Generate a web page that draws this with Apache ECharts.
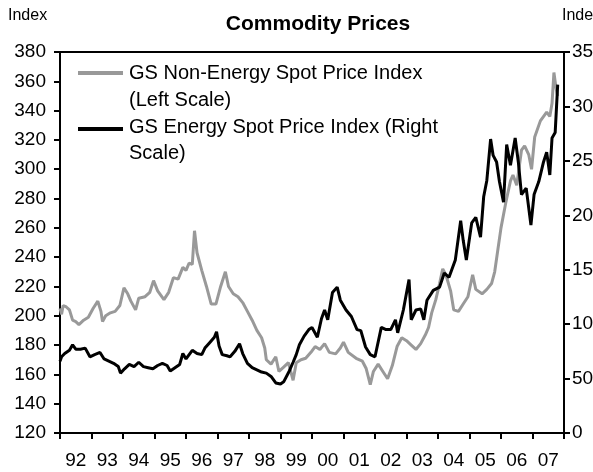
<!DOCTYPE html>
<html>
<head>
<meta charset="utf-8">
<script src="https://cdn.jsdelivr.net/npm/echarts@6/dist/echarts.min.js"></script>
<style>
html,body{margin:0;padding:0;background:#fff;}
#chart{width:593px;height:472px;}
</style>
</head>
<body>
<div id="chart"></div>
<script>
// Year tick labels (categories between yearly ticks)
var yearLabels = ['92','93','94','95','96','97','98','99','00','01','02','03','04','05','06','07'];

// GS Non-Energy Spot Price Index (left scale)
var nonEnergyYears = [1992.00,1992.05,1992.10,1992.20,1992.30,1992.40,1992.50,1992.60,1992.75,1992.90,
1993.05,1993.20,1993.30,1993.35,1993.45,1993.60,1993.75,1993.90,1994.03,1994.15,1994.25,1994.40,1994.50,
1994.70,1994.85,1994.97,1995.10,1995.30,1995.45,1995.60,1995.75,1995.90,1996.00,1996.10,1996.20,1996.27,
1996.35,1996.50,1996.65,1996.80,1996.95,1997.10,1997.25,1997.35,1997.50,1997.65,1997.80,1997.95,1998.10,
1998.25,1998.40,1998.50,1998.55,1998.70,1998.85,1998.95,1999.10,1999.25,1999.40,1999.50,1999.65,1999.80,
2000.00,2000.10,2000.25,2000.40,2000.55,2000.75,2000.90,2001.00,2001.15,2001.40,2001.60,2001.72,2001.85,
2001.95,2002.10,2002.25,2002.40,2002.55,2002.70,2002.85,2003.00,2003.15,2003.30,2003.45,2003.60,2003.70,
2003.80,2003.93,2004.05,2004.15,2004.25,2004.40,2004.50,2004.65,2004.80,2004.95,2005.10,2005.20,2005.40,
2005.55,2005.70,2005.80,2005.90,2006.00,2006.15,2006.30,2006.38,2006.50,2006.65,2006.75,2006.88,2006.97,
2007.07,2007.25,2007.45,2007.55,2007.62,2007.68,2007.75,2007.80];
var nonEnergyValues = [205,201,207,206,204,197,196,194,197,199,
205,210,203,196,200,202,203,207,219,215,210,204,212,
213,216,224,217,211,216,226,225,233,231,236,235,258,
243,231,220,208,208,220,230,220,215,213,209,203,197,
190,185,178,170,167,172,162,165,168,156,168,170,171,
176,179,177,181,175,174,178,182,175,171,169,164,153,
162,167,162,157,166,179,185,183,180,177,181,187,192,
202,211,222,232,228,217,204,203,208,213,228,218,215,
218,222,230,245,260,277,292,296,289,313,316,310,300,
322,333,339,336,345,366,355,350];

// GS Energy Spot Price Index (right scale)
var energyYears = [1992.00,1992.05,1992.15,1992.30,1992.40,1992.50,1992.65,1992.80,1992.95,1993.10,
1993.27,1993.40,1993.55,1993.70,1993.85,1993.92,1994.05,1994.20,1994.35,1994.50,1994.65,1994.80,1994.95,
1995.10,1995.25,1995.40,1995.50,1995.65,1995.80,1995.90,1996.00,1996.20,1996.35,1996.50,1996.60,1996.75,
1996.90,1996.97,1997.05,1997.15,1997.30,1997.40,1997.55,1997.70,1997.80,1997.95,1998.10,1998.25,1998.40,
1998.55,1998.70,1998.85,1999.00,1999.10,1999.28,1999.40,1999.50,1999.60,1999.75,1999.90,2000.00,2000.17,
2000.30,2000.40,2000.50,2000.65,2000.80,2000.90,2001.08,2001.25,2001.43,2001.55,2001.70,2001.85,2002.00,
2002.20,2002.35,2002.50,2002.65,2002.72,2002.90,2003.08,2003.15,2003.30,2003.45,2003.55,2003.65,2003.85,
2004.05,2004.20,2004.35,2004.55,2004.72,2004.80,2004.90,2005.07,2005.20,2005.35,2005.45,2005.55,2005.67,
2005.75,2005.86,2005.95,2006.08,2006.18,2006.30,2006.45,2006.55,2006.65,2006.80,2006.95,2007.05,2007.20,
2007.35,2007.45,2007.55,2007.62,2007.72,2007.80];
var energyValues = [66,70,73,76,81,77,77,78,70,72,
74,68,66,64,61,55,59,63,61,65,61,60,59,
62,64,62,57,60,63,73,68,76,73,72,78,83,
88,93,80,72,71,70,75,82,73,64,60,58,56,
55,52,46,45,47,57,65,72,81,89,95,97,88,
105,113,104,129,134,122,113,107,95,94,79,72,70,
97,95,95,104,92,113,141,104,113,114,104,122,131,
134,147,143,159,195,177,159,193,198,180,217,232,270,
255,249,231,212,265,246,271,249,219,225,191,219,231,
249,258,237,271,276,320];

var FONT = "'Liberation Sans', Arial, sans-serif";

function pairs(xs, ys){ var out=[]; for(var i=0;i<xs.length;i++) out.push([xs[i], ys[i]]); return out; }

var chart = echarts.init(document.getElementById('chart'), null, {renderer:'canvas'});
var axisLine = {show:true, lineStyle:{color:'#000', width:2}};
chart.setOption({
  animation:false,
  backgroundColor:'#fff',
  title:{text:'Commodity Prices', left:313, top:9, textAlign:'center',
    textStyle:{fontFamily:FONT, fontSize:21, fontWeight:'bold', color:'#000'}},
  grid:{left:60, right:29, top:52, bottom:39, containLabel:false, outerBoundsMode:'none'},
  xAxis:[
    {type:'category', data:yearLabels, position:'bottom', boundaryGap:true,
     axisLine:axisLine, axisTick:{show:true, inside:false, length:6, lineStyle:{color:'#000', width:2}, interval:0},
     axisLabel:{interval:0, margin:18, fontFamily:FONT, fontSize:19, color:'#000'},
     splitLine:{show:false}},
    {type:'value', min:1992, max:2008, position:'top',
     axisLine:axisLine, axisTick:{show:false}, axisLabel:{show:false}, splitLine:{show:false}}
  ],
  yAxis:[
    {type:'value', min:120, max:380, interval:20, position:'left',
     axisLine:axisLine, axisTick:{show:true, length:6, lineStyle:{color:'#000', width:2}},
     axisLabel:{margin:14, fontFamily:FONT, fontSize:19, color:'#000'},
     splitLine:{show:false}},
    {type:'value', min:0, max:350, interval:50, position:'right',
     axisLine:axisLine, axisTick:{show:true, length:6, lineStyle:{color:'#000', width:2}},
     axisLabel:{margin:8, fontFamily:FONT, fontSize:19, color:'#000'},
     splitLine:{show:false}}
  ],
  series:[
    {name:'GS Non-Energy Spot Price Index (Left Scale)', type:'line', xAxisIndex:1, yAxisIndex:0,
     data:pairs(nonEnergyYears, nonEnergyValues), showSymbol:false, symbol:'none',
     lineStyle:{color:'#999999', width:3}, z:2},
    {name:'GS Energy Spot Price Index (Right Scale)', type:'line', xAxisIndex:1, yAxisIndex:1,
     data:pairs(energyYears, energyValues), showSymbol:false, symbol:'none',
     lineStyle:{color:'#000000', width:3}, z:3}
  ],
  graphic:[
    {type:'text', left:8, top:8, style:{text:'Index', font:'16px '+FONT, fill:'#000'}},
    {type:'text', x:562, y:8, style:{text:'Index', font:'16px '+FONT, fill:'#000'}},
    {type:'line', shape:{x1:78, y1:73, x2:123, y2:73}, style:{stroke:'#999999', lineWidth:4}},
    {type:'text', x:129, y:73, style:{text:'GS Non-Energy Spot Price Index', font:'20px '+FONT, fill:'#000', textVerticalAlign:'middle'}},
    {type:'text', x:129, y:100, style:{text:'(Left Scale)', font:'20px '+FONT, fill:'#000', textVerticalAlign:'middle'}},
    {type:'line', shape:{x1:78, y1:129, x2:123, y2:129}, style:{stroke:'#000', lineWidth:4}},
    {type:'text', x:129, y:127, style:{text:'GS Energy Spot Price Index (Right', font:'20px '+FONT, fill:'#000', textVerticalAlign:'middle'}},
    {type:'text', x:129, y:153, style:{text:'Scale)', font:'20px '+FONT, fill:'#000', textVerticalAlign:'middle'}}
  ]
});
</script>
</body>
</html>
